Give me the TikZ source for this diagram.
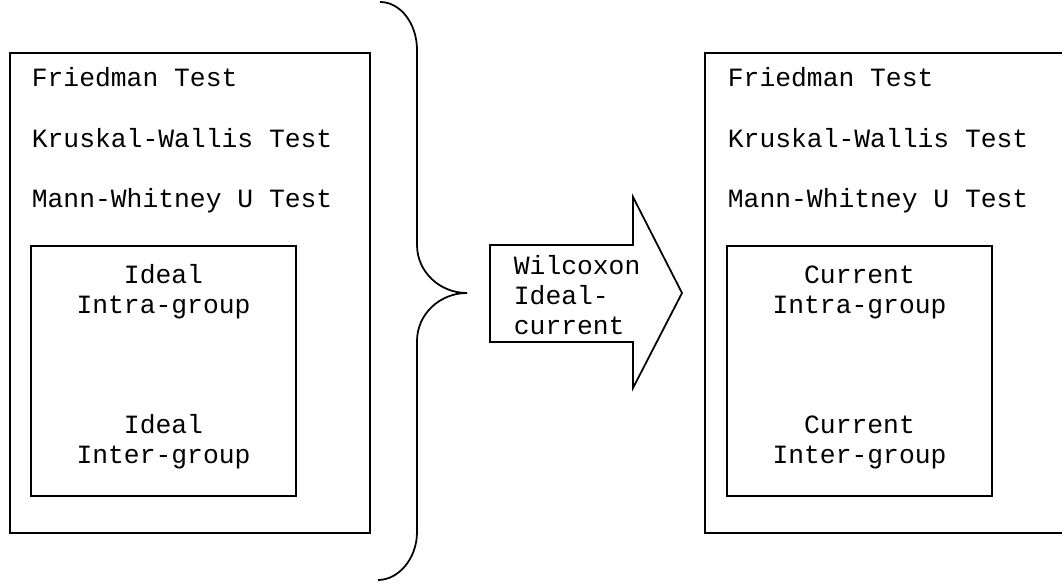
\documentclass[tikz,border=0pt]{standalone}
\usepackage{fontspec}
\setmonofont{Liberation Mono}
\usetikzlibrary{positioning}
\tikzset{font=\ttfamily\fontsize{12}{13.7}\selectfont}

\begin{document}
\begin{tikzpicture}[x=0.016cm, y=-0.016cm, line width=0.8pt]
	\useasboundingbox (0, 0) rectangle (1062, 582);
	\tikzstyle{every node}=[inner sep=0pt]
	\tikzstyle{outerbox}=[draw, minimum width=5.76cm, minimum height=7.68cm]
	\tikzstyle{groupbox}=[draw, minimum width=4.24cm, minimum height=4cm]

	% ideal side
	\node[outerbox] (idealall) at (190, 293) {};
	\node[anchor=base west] (fried1) at (31, 87) {Friedman Test};
	\node[anchor=base west] (krusk1) at (31, 147) {Kruskal-Wallis Test};
	\node[anchor=base west] (mann1) at (31, 207) {Mann-Whitney U Test};
	\node[groupbox] (idealgrp) at (163.5, 371) {};
	\node[align=center] (idintra) at (163.5, 292) {Ideal\\Intra-group};
	\node[align=center] (idinter) at (163.5, 442) {Ideal\\Inter-group};

	% brace
	\draw (380, 2) .. controls (400.4, 2) and (417, 23.5) .. (417, 50)
		-- (417, 245) .. controls (417, 271.5) and (439.4, 293) .. (467, 293)
		.. controls (439.4, 293) and (417, 314.5) .. (417, 341)
		-- (417, 532) .. controls (417, 558.5) and (398.5, 580) .. (378, 580);

	% arrow
	\draw (490, 245) -- (633, 245) -- (633, 197) -- (682, 293)
		-- (633, 388) -- (633, 342) -- (490, 342) -- cycle;
	\node[align=left, anchor=west] (wilcox) at (513, 295) {Wilcoxon\\Ideal-\\current};

	% current side
	\node[outerbox] (currall) at (885, 293) {};
	\node[anchor=base west] (fried2) at (727, 87) {Friedman Test};
	\node[anchor=base west] (krusk2) at (727, 147) {Kruskal-Wallis Test};
	\node[anchor=base west] (mann2) at (727, 207) {Mann-Whitney U Test};
	\node[groupbox] (currgrp) at (859.5, 371) {};
	\node[align=center] (cuintra) at (859.5, 292) {Current\\Intra-group};
	\node[align=center] (cuinter) at (859.5, 442) {Current\\Inter-group};
\end{tikzpicture}
\end{document}
